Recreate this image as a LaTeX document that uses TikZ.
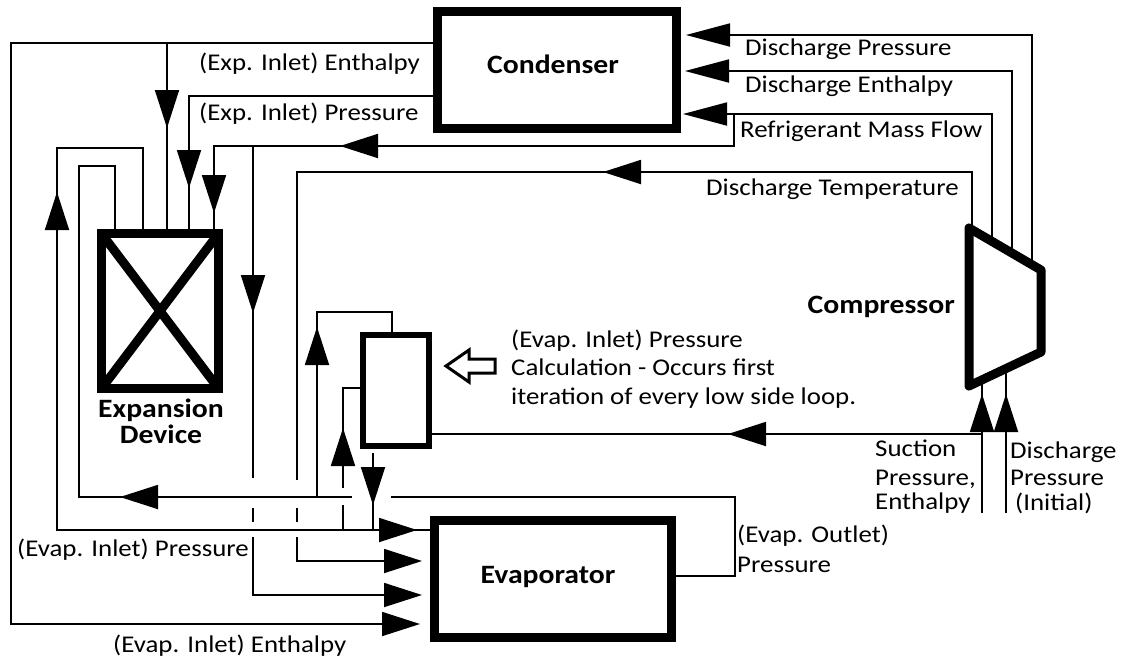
\documentclass[tikz,border=0pt]{standalone}
\usepackage{fontspec}
\setmainfont{Carlito}[FakeStretch=1.12]
\usetikzlibrary{arrows.meta}

\begin{document}
\begin{tikzpicture}[x=1pt,y=-1pt,
  unitbox/.style={draw,line width=9pt,outer sep=0pt,inner sep=0pt},
  flow/.style={line width=1.8pt},
  arr/.style={line width=1.8pt,-{Triangle[length=38pt,width=24pt]}},
  arrc/.style={line width=1.8pt,-{Triangle[length=44pt,width=23pt]}},
  lbl/.style={anchor=base west,inner sep=0pt,font=\fontsize{24}{28}\selectfont},
  heading/.style={anchor=base,inner sep=0pt,font=\fontsize{26.5}{30}\selectfont\bfseries}]
\useasboundingbox (0,0) rectangle (1124,657);
% components
\node[unitbox,minimum width=239,minimum height=117] (cond) at (556.5,70) {};
\node[unitbox,minimum width=117,minimum height=155] (exp) at (160,311) {};
\draw[line width=9pt] (exp.north west) -- (exp.south east) (exp.north east) -- (exp.south west);
\node[unitbox,line width=6pt,minimum width=66,minimum height=111] (calc) at (396,390.5) {};
\node[unitbox,minimum width=237,minimum height=117] (evap) at (553,579) {};
\coordinate (cmp tl) at (969,228);
\coordinate (cmp tr) at (1041,270);
\coordinate (cmp br) at (1041,352);
\coordinate (cmp bl) at (969,386);
\draw[line width=9pt,line join=round] (cmp tl) -- (cmp tr) -- (cmp br) -- (cmp bl) -- cycle;
\node[heading] (cond txt) at (553,73) {Condenser};
\node[heading,anchor=base east] (cmp txt) at (955,313) {Compressor};
\node[heading] (evap txt) at (548,583) {Evaporator};
\node[heading] (exp txt1) at (161,417) {Expansion};
\node[heading] (exp txt2) at (161,443) {Device};

% compressor to condenser
\draw[arrc] (1032,265) -- (1032,35) -- (686,35);
\draw[arrc] (1012,253) -- (1012,71) -- (685,71);
\draw[arrc] (992,241) -- (992,114) -- (683,114);
\node[lbl] (l dp) at (745,55) {Discharge Pressure};
\node[lbl] (l de) at (745,92) {Discharge Enthalpy};
\node[lbl] (l rmf) at (740,137) {Refrigerant Mass Flow};

% mass flow branch
\draw[flow] (734,114) -- (734,146) -- (214,146) -- (214,0 |- exp.north);
\draw[arr] (378,146) -- (340,146);
\draw[arr] (214,178) -- (214,213);
\draw[flow] (253,146) -- (253,478);
\draw[flow] (253,508) -- (253,522);
\draw[arr] (253,537) -- (253,595) -- (422,595);
\draw[arr] (253,280) -- (253,313);

% discharge temperature
\draw[flow] (972,230) -- (972,172) -- (297,172) -- (297,480);
\draw[flow] (297,508) -- (297,522);
\draw[arr] (297,537) -- (297,561) -- (422,561);
\draw[arr] (643,172) -- (603,172);
\node[lbl] (l dt) at (706,195) {Discharge Temperature};

% condenser outlet
\draw[arr] (cond.west |- 0,43) -- (11,43) -- (11,624) -- (420,624);
\draw[flow] (167,43) -- (167,0 |- exp.north);
\draw[arr] (167,92) -- (167,128);
\draw[flow] (cond.west |- 0,96) -- (189,96) -- (189,0 |- exp.north);
\draw[arr] (189,152) -- (189,188);
\node[lbl] (l eih) at (199,70) {(Exp. Inlet) Enthalpy};
\node[lbl] (l eip) at (199,120) {(Exp. Inlet) Pressure};

% evaporator inlet pressure
\draw[flow] (143,0 |- exp.north) -- (143,148) -- (57,148) -- (57,530) -- (evap.west |- 0,530);
\draw[arr] (57,228) -- (57,192);
\draw[arr] (378,530) -- (417,530);
\node[lbl] (l vip) at (17,556) {(Evap. Inlet) Pressure};
\node[lbl] (l vih) at (113,652) {(Evap. Inlet) Enthalpy};

% evaporator outlet
\draw[flow] (115,0 |- exp.north) -- (115,166) -- (79,166) -- (79,497) -- (352,497);
\draw[flow] (391,497) -- (735,497) -- (735,576) -- (evap.east |- 0,576);
\draw[arr] (158,497) -- (120,497);
\node[lbl] (l vop1) at (737,542) {(Evap. Outlet)};
\node[lbl] (l vop2) at (737,572) {Pressure};

% calculation block
\draw[flow] (317,497) -- (317,312) -- (392,312) -- (392,0 |- calc.north);
\draw[arr] (317,365) -- (317,327);
\draw[flow] (343,530) -- (343,505);
\draw[flow] (343,488) -- (343,388) -- (calc.west |- 0,388);
\draw[arr] (343,463) -- (343,428);
\draw[flow] (373,453) -- (373,530);
\draw[arr] (373,470) -- (373,505);
\draw[line width=3pt,fill=white] (446,366) -- (469,350) -- (469,359) -- (495,359) -- (495,373) -- (469,373) -- (469,382) -- cycle;
\node[lbl] (l c1) at (511,347) {(Evap. Inlet) Pressure};
\node[lbl] (l c2) at (511,375) {Calculation - Occurs first};
\node[lbl] (l c3) at (511,404) {iteration of every low side loop.};

% compressor inlet
\draw[flow] (982,513) -- (982,380);
\draw[flow] (982,434) -- (calc.east |- 0,434);
\draw[arr] (982,428) -- (982,394);
\draw[arr] (766,434) -- (728,434);
\draw[flow] (1006,513) -- (1006,369);
\draw[arr] (1006,428) -- (1006,394);
\node[lbl] (l s1) at (875,456) {Suction};
\node[lbl] (l s2) at (875,485) {Pressure,};
\node[lbl] (l s3) at (875,509) {Enthalpy};
\node[lbl] (l d1) at (1010,458) {Discharge};
\node[lbl] (l d2) at (1010,485) {Pressure};
\node[lbl] (l d3) at (1015,510) {(Initial)};
\end{tikzpicture}
\end{document}
